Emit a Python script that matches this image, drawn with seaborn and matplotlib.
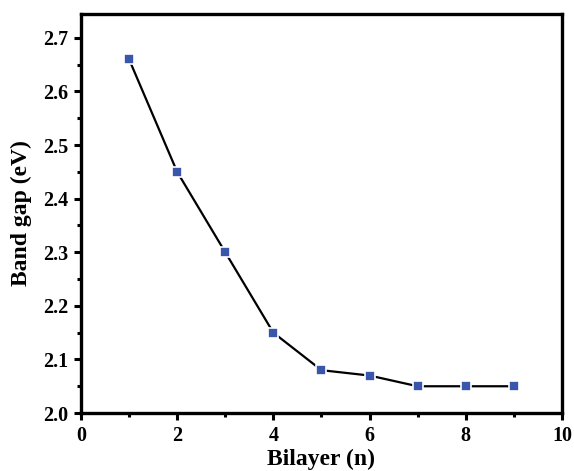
import matplotlib
matplotlib.use("Agg")
import matplotlib.pyplot as plt
import seaborn as sns
import pandas as pd
from matplotlib.ticker import MultipleLocator, FormatStrFormatter

bilayer = [1, 2, 3, 4, 5, 6, 7, 8, 9]
band_gap = [2.66, 2.45, 2.30, 2.15, 2.08, 2.07, 2.05, 2.05, 2.05]

df = pd.DataFrame({"Bilayer (n)": bilayer, "Band gap (eV)": band_gap})

sns.set_style("ticks")
plt.rcParams["font.family"] = ["Liberation Serif", "DejaVu Serif"]
plt.rcParams["font.weight"] = "bold"
plt.rcParams["text.color"] = "black"
plt.rcParams["axes.labelcolor"] = "black"
plt.rcParams["axes.edgecolor"] = "black"

fig = plt.figure(figsize=(5.74, 4.71), dpi=100)
ax = fig.add_axes([0.141, 0.123, 0.838, 0.848])

sns.lineplot(
    data=df, x="Bilayer (n)", y="Band gap (eV)", ax=ax,
    color="black", linewidth=1.6,
    marker="s", markersize=7.5, markerfacecolor="#3a56aa",
    markeredgecolor="white", markeredgewidth=1.2,
)

ax.set_xlim(0, 10)
ax.set_ylim(2.0, 2.745)
ax.xaxis.set_major_locator(MultipleLocator(2))
ax.xaxis.set_minor_locator(MultipleLocator(1))
ax.yaxis.set_major_locator(MultipleLocator(0.1))
ax.yaxis.set_minor_locator(MultipleLocator(0.05))
ax.yaxis.set_major_formatter(FormatStrFormatter("%.1f"))

for s in ax.spines.values():
    s.set_linewidth(2.4)
    s.set_color("black")
ax.tick_params(which="major", direction="out", length=5, width=2.2,
               labelsize=14.5, colors="black", pad=4)
ax.tick_params(which="minor", direction="out", length=3, width=2.2, colors="black")
for lab in ax.get_xticklabels() + ax.get_yticklabels():
    lab.set_fontweight("bold")

ax.set_xlabel("Bilayer (n)", fontsize=17, fontweight="bold", labelpad=2)
ax.set_ylabel("Band gap (eV)", fontsize=17, fontweight="bold", labelpad=8)

fig.savefig("out.png", dpi=100)
